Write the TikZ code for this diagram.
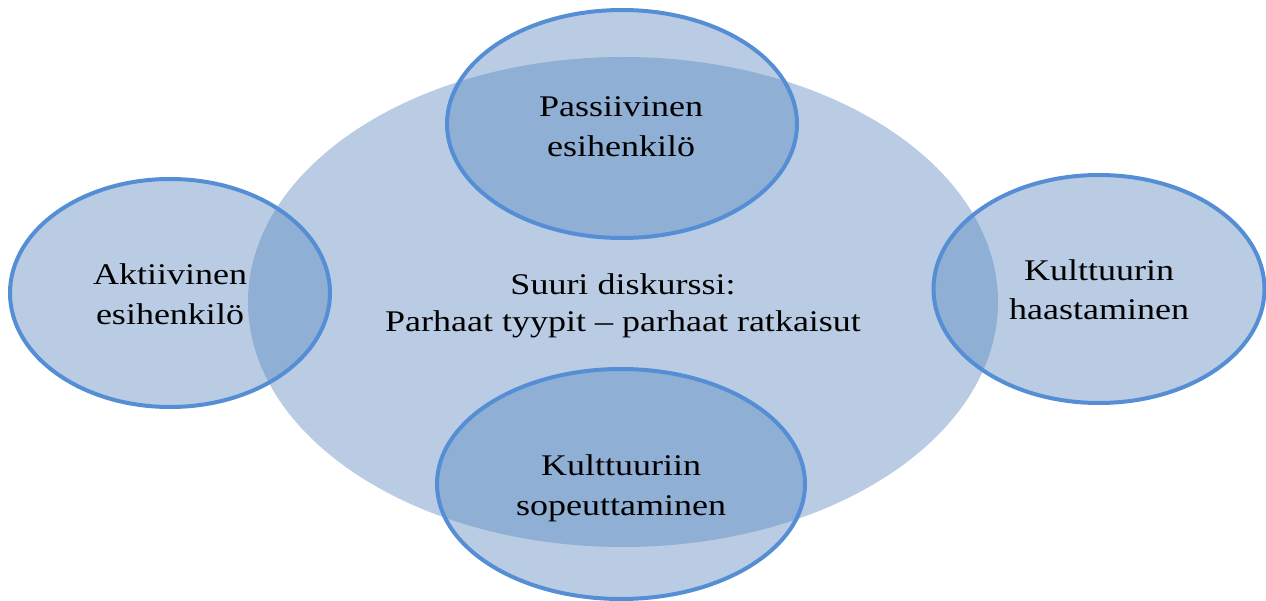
\documentclass[tikz,border=0pt]{standalone}
\usepackage{fontspec}
\setmainfont[FakeStretch=1.2]{Liberation Serif}
\usetikzlibrary{shapes.geometric}
\definecolor{fillblue}{RGB}{87,134,191}
\definecolor{lineblue}{RGB}{85,142,213}
\tikzset{
  bigell/.style={ellipse, fill=fillblue, fill opacity=0.42, draw=none, inner sep=0pt},
  smallell/.style={ellipse, fill=fillblue, fill opacity=0.42, draw=lineblue, draw opacity=1, line width=4pt, inner sep=0pt},
  lbl/.style={anchor=base, inner sep=0pt, font=\fontsize{30}{39}\selectfont, text=black}
}
\begin{document}
\begin{tikzpicture}[x=1pt,y=-1pt]
\useasboundingbox (0,0) rectangle (1266,601);
\node[bigell, minimum width=750pt, minimum height=490pt] (big) at (623,302) {};
\node[smallell, minimum width=350pt, minimum height=228pt] (top) at (622,124) {};
\node[smallell, minimum width=320pt, minimum height=228pt] (left) at (170,293) {};
\node[smallell, minimum width=331pt, minimum height=228pt] (right) at (1099,289) {};
\node[smallell, minimum width=368pt, minimum height=230pt] (bottom) at (621,484) {};
\node[lbl] (c1) at (623,295) {Suuri diskurssi:};
\node[lbl] (c2) at (623,332) {Parhaat tyypit -- parhaat ratkaisut};
\node[lbl] (t1) at (621,117) {Passiivinen};
\node[lbl] (t2) at (621,157) {esihenkilö};
\node[lbl] (l1) at (170,285) {Aktiivinen};
\node[lbl] (l2) at (170,325) {esihenkilö};
\node[lbl] (r1) at (1099,281) {Kulttuurin};
\node[lbl] (r2) at (1099,320) {haastaminen};
\node[lbl] (b1) at (621,475) {Kulttuuriin};
\node[lbl] (b2) at (621,515) {sopeuttaminen};
\end{tikzpicture}
\end{document}
